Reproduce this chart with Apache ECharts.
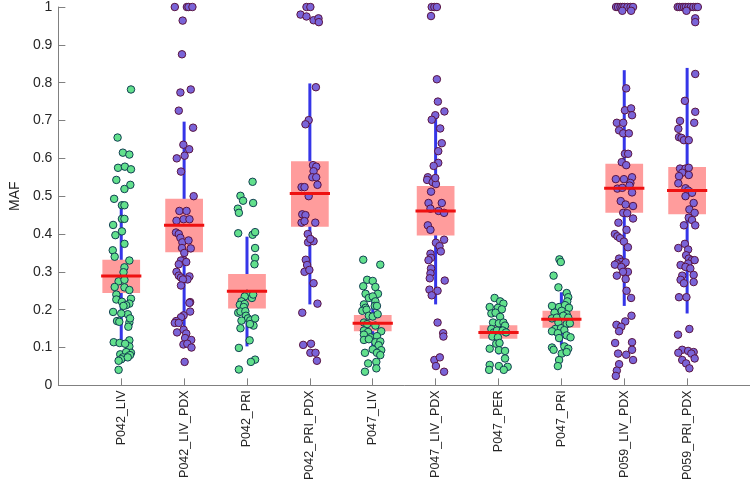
<!DOCTYPE html>
<html>
<head>
<meta charset="utf-8">
<script src="https://cdn.jsdelivr.net/npm/echarts@6/dist/echarts.min.js"></script>
<style>
  html, body { margin: 0; padding: 0; background: #fff; }
  #main { width: 750px; height: 483px; }
</style>
</head>
<body>
<div id="main"></div>
<script>
var categories = ['P042_LIV', 'P042_LIV_PDX', 'P042_PRI', 'P042_PRI_PDX', 'P047_LIV',
    'P047_LIV_PDX', 'P047_PER', 'P047_PRI', 'P059_LIV_PDX', 'P059_PRI_PDX'];

// box statistics
var q1 =          [0.244, 0.352, 0.203, 0.419, 0.143, 0.396, 0.123, 0.152, 0.456, 0.452];
var q3 =          [0.332, 0.493, 0.294, 0.592, 0.186, 0.527, 0.159, 0.197, 0.586, 0.577];
var medians =     [0.289, 0.423, 0.249, 0.507, 0.164, 0.461, 0.140, 0.175, 0.521, 0.515];
var whiskerLow =  [0.115, 0.150, 0.103, 0.214, 0.093, 0.214, 0.082, 0.106, 0.210, 0.190];
var whiskerHigh = [0.478, 0.697, 0.393, 0.798, 0.240, 0.707, 0.214, 0.246, 0.833, 0.839];

// samples: [horizontal jitter (category units), MAF]
var pts_P042_LIV = [[.155,.782],[-.058,.655],[.026,.615],[.129,.61],[-.051,.575],[.058,.578],[.155,.571],
  [-.078,.543],[.145,.53],[.051,.519],[-.113,.493],[.011,.476],[.051,.476],[-.129,.424],[.011,.44],[.051,.44],
  [.011,.407],[-.093,.397],[.051,.374],[-.135,.357],[-.104,.34],[.129,.33],[.051,.312],[.036,.299],[-.042,.275],
  [.051,.279],[-.104,.26],[.051,.259],[.129,.252],[-.078,.24],[.155,.229],[-.078,.227],[.011,.221],[.129,.216],
  [.078,.212],[.036,.21],[-.129,.194],[.104,.188],[0,.19],[-.067,.17],[-.031,.168],[.129,.166],[.113,.155],
  [.14,.177],[-.12,.114],[-.026,.112],[.129,.119],[.129,.103],[.062,.11],[-.016,.082],[.113,.084],[.155,.086],
  [.078,.088],[.113,.077],[.026,.074],[0,.069],[-.042,.065],[.14,.08],[.104,.074],[-.042,.041]];
var pts_P042_LIV_PDX = [[-.148,1],[.044,1],[.07,1],[.132,1],[-.023,.964],[-.034,.875],[-.059,.774],[.106,.782],
  [-.085,.726],[.143,.681],[-.012,.636],[.081,.624],[.008,.607],[-.117,.6],[-.05,.565],[.152,.5],[-.075,.461],
  [.039,.461],[-.121,.435],[-.008,.439],[.085,.439],[-.129,.404],[-.085,.4],[-.059,.39],[-.028,.378],[.07,.383],
  [-.034,.363],[.003,.35],[.106,.362],[-.008,.331],[-.05,.33],[-.085,.32],[.034,.326],[-.121,.3],[-.085,.29],
  [-.05,.285],[.085,.288],[.054,.28],[-.019,.28],[-.05,.264],[.096,.22],[.085,.218],[.096,.195],[-.008,.185],
  [-.05,.18],[-.127,.17],[-.148,.165],[-.085,.165],[-.112,.14],[-.008,.147],[.034,.137],[.016,.125],[.113,.12],
  [-.011,.108],[.051,.11],[.117,.1],[.008,.062]];
var pts_P042_PRI = [[.089,.538],[-.104,.501],[-.062,.488],[.098,.482],[-.145,.467],[-.129,.456],[-.14,.402],
  [.089,.398],[.129,.405],[.129,.363],[.129,.337],[.119,.32],[0,.242],[-.036,.235],[.078,.231],[.098,.24],
  [-.088,.222],[-.114,.213],[-.036,.215],[-.052,.207],[-.14,.192],[-.104,.195],[-.026,.196],[-.016,.184],
  [.016,.177],[.052,.172],[.129,.177],[.104,.158],[-.088,.171],[-.104,.151],[.047,.162],[.042,.119],[-.129,.099],
  [.129,.068],[.062,.062],[-.129,.042]];
var pts_P042_PRI_PDX = [[-.054,1],[.008,1],[-.148,.98],[-.054,.975],[.059,.965],[.137,.97],[.143,.96],[.096,.788],
  [-.019,.701],[-.07,.69],[.05,.582],[.101,.578],[.059,.566],[.039,.55],[.101,.55],[-.132,.524],[-.085,.524],
  [.121,.53],[-.019,.5],[-.121,.452],[-.07,.45],[-.132,.43],[-.085,.434],[.086,.43],[-.034,.4],[-.028,.378],
  [.059,.381],[.008,.387],[-.065,.332],[-.044,.318],[-.085,.3],[-.008,.305],[.059,.27],[.121,.216],[-.121,.192],
  [-.106,.107],[.018,.11],[.008,.086],[.09,.086],[.112,.065]];
var pts_P047_LIV = [[-.151,.332],[.12,.319],[-.089,.279],[0,.276],[-.151,.262],[.042,.26],[-.114,.242],[.083,.242],
  [-.062,.231],[0,.235],[.042,.222],[-.14,.214],[-.114,.205],[.031,.21],[.067,.21],[-.166,.197],[-.098,.2],
  [-.062,.184],[0,.182],[.078,.188],[-.14,.166],[-.089,.162],[.042,.158],[-.14,.145],[-.073,.141],[.135,.143],
  [-.14,.134],[-.036,.127],[.067,.13],[-.14,.12],[-.062,.122],[.042,.114],[.12,.116],[.093,.106],[0,.095],
  [.135,.093],[-.124,.086],[.067,.086],[.12,.08],[-.073,.058],[.057,.062],[-.124,.036],[.057,.045]];
var pts_P047_LIV_PDX = [[-.062,1],[-.02,1],[.02,1],[-.073,.976],[.02,.809],[.036,.75],[.14,.724],[-.005,.714],
  [-.062,.702],[.073,.679],[.098,.64],[.042,.619],[.042,.588],[-.031,.58],[-.124,.55],[-.135,.543],[-.047,.537],
  [.005,.532],[-.005,.548],[-.073,.512],[-.113,.482],[.098,.482],[-.082,.467],[.047,.461],[.135,.456],[-.124,.423],
  [-.082,.411],[.135,.385],[.005,.377],[.062,.368],[.083,.354],[-.082,.348],[-.073,.337],[-.113,.331],[-.073,.309],
  [-.082,.296],[-.093,.283],[.145,.277],[-.098,.253],[.031,.25],[-.062,.238],[.031,.166],[.12,.138],[.124,.129],
  [-.02,.067],[.067,.074],[.005,.051],[.135,.036]];
var pts_P047_PER = [[-.062,.231],[.026,.222],[.078,.216],[-.14,.207],[-.009,.205],[.053,.201],[-.113,.19],
  [-.047,.192],[.026,.181],[-.087,.166],[.006,.164],[.078,.166],[.104,.158],[-.113,.149],[-.072,.14],[-.025,.145],
  [.068,.145],[.12,.14],[-.098,.129],[-.009,.127],[-.036,.11],[.016,.112],[-.14,.097],[.006,.093],[.104,.091],
  [.104,.071],[-.14,.054],[.006,.051],[.146,.049],[-.149,.041],[.084,.041]];
var pts_P047_PRI = [[-.031,.333],[-.009,.326],[-.124,.29],[-.047,.259],[.084,.244],[.109,.233],[.093,.222],
  [-.149,.21],[-.036,.207],[.058,.212],[.12,.205],[-.109,.192],[.006,.197],[.084,.188],[-.149,.177],[-.072,.179],
  [.031,.184],[.109,.179],[-.047,.166],[.084,.162],[.135,.164],[-.098,.149],[-.005,.151],[.047,.146],[-.149,.143],
  [-.056,.138],[.084,.132],[.146,.127],[-.036,.125],[-.149,.1],[-.124,.094],[.047,.103],[.109,.097],[.006,.084],
  [.084,.088],[-.036,.067],[-.056,.051]];
var pts_P059_LIV_PDX = [[-.13,1],[-.1,1],[-.06,1],[-.03,1],[0,1],[.05,1],[.1,1],[.14,1],[-.031,.99],[.109,.99],
  [.031,.785],[.011,.727],[.109,.732],[.124,.714],[-.118,.694],[-.016,.694],[-.082,.674],[-.016,.666],[.073,.666],
  [.011,.612],[.062,.612],[-.04,.59],[.031,.582],[-.134,.545],[-.005,.545],[.124,.55],[.098,.535],[-.109,.52],
  [-.031,.522],[.084,.528],[.124,.51],[-.056,.487],[.022,.478],[.14,.474],[-.016,.456],[.047,.455],[.14,.441],
  [-.093,.43],[.037,.411],[-.149,.4],[-.109,.394],[-.067,.389],[-.005,.38],[.058,.365],[-.082,.335],[-.047,.326],
  [-.118,.322],[-.149,.319],[-.016,.319],[.022,.325],[-.047,.313],[.058,.3],[-.02,.3],[-.118,.29],[.022,.281],
  [.037,.25],[.109,.231],[.115,.184],[.016,.169],[-.124,.16],[-.047,.155],[-.082,.143],[-.145,.112],[.124,.114],
  [.124,.094],[-.098,.084],[.031,.081],[.14,.067],[-.082,.056],[-.118,.039],[-.134,.025]];
var pts_P059_PRI_PDX = [[-.15,1],[-.12,1],[-.08,1],[-.05,1],[-.02,1],[.02,1],[.06,1],[.1,1],[.14,1],[.17,1],
  [-.011,.99],[.129,.97],[.129,.96],[.129,.823],[-.036,.752],[.129,.723],[-.113,.699],[.113,.694],[-.14,.678],
  [-.129,.656],[-.089,.654],[-.051,.648],[.026,.648],[-.113,.573],[-.026,.573],[.026,.575],[-.078,.562],
  [-.129,.553],[.026,.556],[-.14,.534],[-.026,.521],[.016,.515],[.078,.509],[-.026,.5],[.104,.482],[.036,.465],
  [.12,.456],[.026,.443],[.078,.437],[.129,.423],[-.051,.423],[-.036,.374],[-.14,.363],[.016,.359],[-.016,.344],
  [.026,.335],[.078,.331],[.12,.331],[.016,.322],[-.104,.318],[-.026,.313],[.051,.309],[-.078,.29],[.104,.292],
  [-.104,.279],[-.051,.27],[.104,.273],[-.129,.233],[-.011,.233],[-.145,.134],[.036,.149],[-.078,.094],
  [-.14,.086],[.016,.091],[.104,.088],[.067,.084],[.12,.071],[-.078,.067],[-.016,.058],[.036,.045]];

var points = [pts_P042_LIV, pts_P042_LIV_PDX, pts_P042_PRI, pts_P042_PRI_PDX, pts_P047_LIV,
    pts_P047_LIV_PDX, pts_P047_PER, pts_P047_PRI, pts_P059_LIV_PDX, pts_P059_PRI_PDX];
var isTumour = [true, false, true, false, true, false, true, true, false, false];
var positions = categories.map(function (c, i) { return i + 1; });

var greenData = [], purpleData = [];
points.forEach(function (list, i) {
    list.forEach(function (p) {
        (isTumour[i] ? greenData : purpleData).push([positions[i] + p[0], p[1]]);
    });
});

var boxData = positions.map(function (x, i) { return [x, q1[i], q3[i]]; });
var medData = positions.map(function (x, i) { return [x, medians[i]]; });
var whiskData = positions.map(function (x, i) { return [x, whiskerLow[i], whiskerHigh[i]]; });

var fontName = 'Liberation Sans, Arial, sans-serif';
var axisGray = '#808080';

var myChart = echarts.init(document.getElementById('main'));
var option = {
    animation: false,
    grid: { left: 42, right: 0, top: 4, bottom: 94 },
    xAxis: {
        type: 'value',
        min: 0,
        max: 11,
        interval: 1,
        axisLine: { show: true, lineStyle: { color: axisGray, width: 1 } },
        axisTick: { show: true, inside: true, length: 7, lineStyle: { color: axisGray },
            customValues: positions },
        splitLine: { show: false },
        axisLabel: {
            customValues: positions,
            rotate: 90,
            margin: 5,
            fontSize: 12.5,
            fontFamily: fontName,
            color: '#262626',
            formatter: function (v) { return categories[Math.round(v) - 1] || ''; }
        }
    },
    yAxis: {
        type: 'value',
        min: 0,
        max: 1,
        interval: 0.1,
        name: 'MAF',
        nameLocation: 'middle',
        nameRotate: 90,
        nameGap: 33,
        nameTextStyle: { fontSize: 14, fontFamily: fontName, color: '#262626' },
        axisLine: { show: true, lineStyle: { color: axisGray, width: 1 } },
        axisTick: { show: true, inside: true, length: 7, lineStyle: { color: axisGray } },
        splitLine: { show: false },
        axisLabel: {
            margin: 6,
            fontSize: 14,
            fontFamily: fontName,
            color: '#262626',
            formatter: function (v) {
                var r = Math.round(v * 10) / 10;
                return (r === 0 || r === 1) ? String(r) : r.toFixed(1);
            }
        }
    },
    series: [{
        type: 'custom',
        name: 'whisker',
        z: 1,
        data: whiskData,
        renderItem: function (params, api) {
            var a = api.coord([api.value(0), api.value(1)]);
            var b = api.coord([api.value(0), api.value(2)]);
            return { type: 'line', shape: { x1: a[0], y1: a[1], x2: b[0], y2: b[1] },
                style: { stroke: '#3535e8', lineWidth: 3 } };
        }
    }, {
        type: 'custom',
        name: 'box',
        z: 2,
        data: boxData,
        renderItem: function (params, api) {
            var tl = api.coord([api.value(0) - 0.3, api.value(2)]);
            var br = api.coord([api.value(0) + 0.3, api.value(1)]);
            return { type: 'rect', shape: { x: tl[0], y: tl[1], width: br[0] - tl[0], height: br[1] - tl[1] },
                style: { fill: '#ff9c9c' } };
        }
    }, {
        type: 'scatter',
        name: 'tumour',
        z: 3,
        data: greenData,
        symbolSize: 7.5,
        itemStyle: { color: '#62e08c', borderColor: '#123e52', borderWidth: 1, opacity: 1 }
    }, {
        type: 'scatter',
        name: 'pdx',
        z: 3,
        data: purpleData,
        symbolSize: 7.5,
        itemStyle: { color: '#7a64d8', borderColor: '#5a1440', borderWidth: 1, opacity: 1 }
    }, {
        type: 'custom',
        name: 'median',
        z: 4,
        data: medData,
        renderItem: function (params, api) {
            var a = api.coord([api.value(0) - 0.32, api.value(1)]);
            var b = api.coord([api.value(0) + 0.32, api.value(1)]);
            return { type: 'line', shape: { x1: a[0], y1: a[1], x2: b[0], y2: b[1] },
                style: { stroke: '#ee1111', lineWidth: 3 } };
        }
    }]
};
myChart.setOption(option);
</script>
</body>
</html>
